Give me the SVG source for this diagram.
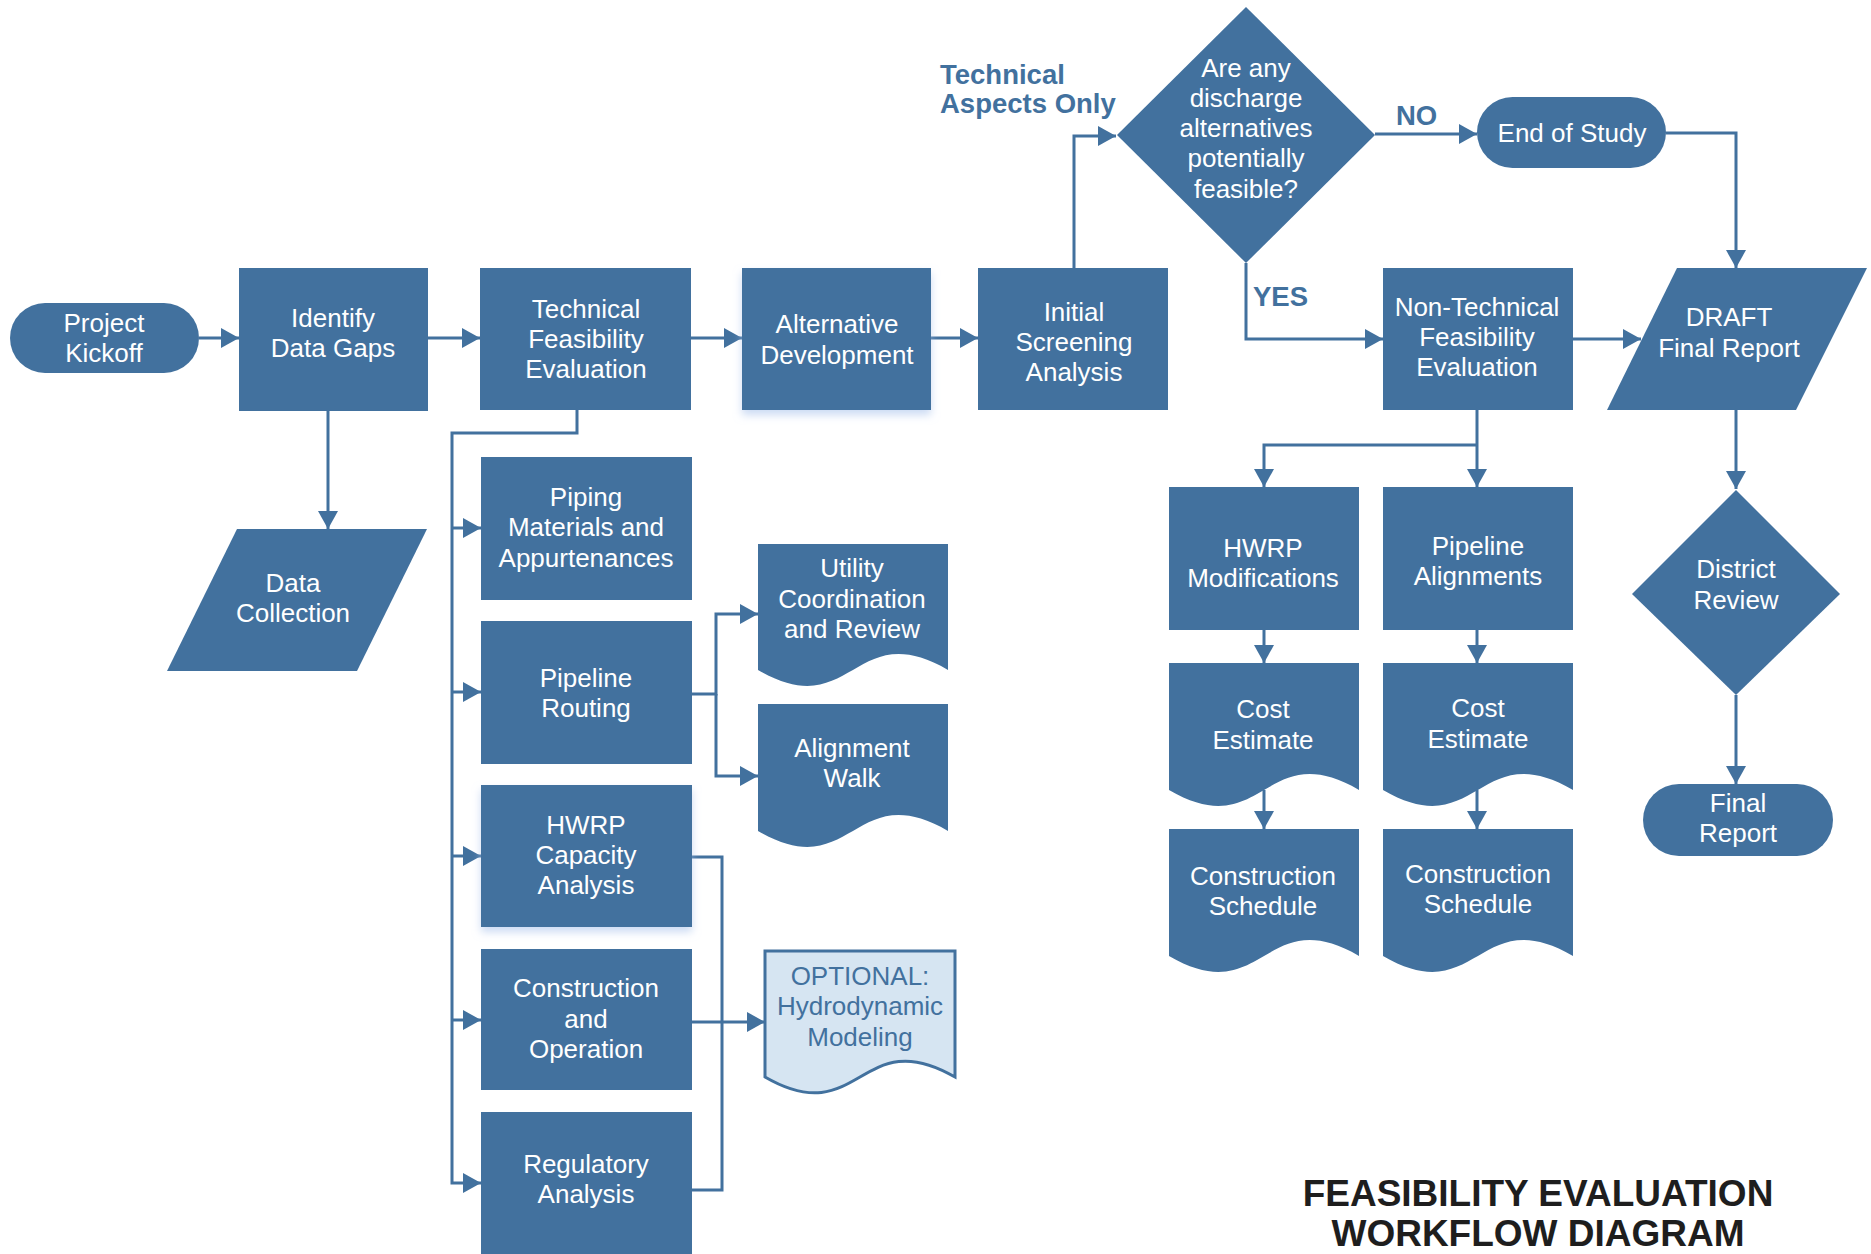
<svg xmlns="http://www.w3.org/2000/svg" width="1871" height="1254" viewBox="0 0 1871 1254">
<style>
.n{fill:#42719e}
.t{fill:#ffffff;font-family:"Liberation Sans",Arial,sans-serif;font-size:26px;text-anchor:middle}
.lbl{fill:#42719e;font-family:"Liberation Sans",Arial,sans-serif;font-size:27.5px;font-weight:bold}
.c{fill:none;stroke:#42719e;stroke-width:3}
.opt{fill:#d6e5f2;stroke:#42719e;stroke-width:3}
.ot{fill:#42719e;font-family:"Liberation Sans",Arial,sans-serif;font-size:26px;text-anchor:middle}
.title{fill:#1e1e1e;font-family:"Liberation Sans",Arial,sans-serif;font-size:37px;font-weight:bold;text-anchor:middle}
</style>
<defs>
<marker id="ah" markerUnits="userSpaceOnUse" markerWidth="18" markerHeight="20" refX="18" refY="10" orient="auto">
<path d="M0,0 L18,10 L0,20 Z" fill="#42719e"/>
</marker>
<filter id="glow" x="-10%" y="-10%" width="120%" height="130%">
<feDropShadow dx="0" dy="5" stdDeviation="4" flood-color="#a9c3ec" flood-opacity="0.6"/>
</filter>
</defs>

<g id="connectors">
<path class="c" d="M199,338 H239" marker-end="url(#ah)"/>
<path class="c" d="M428,338 H480" marker-end="url(#ah)"/>
<path class="c" d="M691,338 H742" marker-end="url(#ah)"/>
<path class="c" d="M931,338 H978" marker-end="url(#ah)"/>
<path class="c" d="M1074,268 V136 H1116" marker-end="url(#ah)"/>
<path class="c" d="M1375,134 H1477" marker-end="url(#ah)"/>
<path class="c" d="M1666,133 H1736 V268" marker-end="url(#ah)"/>
<path class="c" d="M1246,263 V339 H1383" marker-end="url(#ah)"/>
<path class="c" d="M1573,339 H1641" marker-end="url(#ah)"/>
<path class="c" d="M328,411 V529" marker-end="url(#ah)"/>
<path class="c" d="M577,410 V433 H452 V1183 H481" marker-end="url(#ah)"/>
<path class="c" d="M452,528 H481" marker-end="url(#ah)"/>
<path class="c" d="M452,692 H481" marker-end="url(#ah)"/>
<path class="c" d="M452,856 H481" marker-end="url(#ah)"/>
<path class="c" d="M452,1020 H481" marker-end="url(#ah)"/>
<path class="c" d="M692,694 H716 V614 H758" marker-end="url(#ah)"/>
<path class="c" d="M716,694 V776 H758" marker-end="url(#ah)"/>
<path class="c" d="M692,857 H722 V1190 H692"/>
<path class="c" d="M692,1022 H765" marker-end="url(#ah)"/>
<path class="c" d="M1477,410 V487" marker-end="url(#ah)"/>
<path class="c" d="M1477,445 H1264 V487" marker-end="url(#ah)"/>
<path class="c" d="M1264,630 V663" marker-end="url(#ah)"/>
<path class="c" d="M1477,630 V663" marker-end="url(#ah)"/>
<path class="c" d="M1264,790 V829" marker-end="url(#ah)"/>
<path class="c" d="M1477,790 V829" marker-end="url(#ah)"/>
<path class="c" d="M1736,410 V489" marker-end="url(#ah)"/>
<path class="c" d="M1736,695 V784" marker-end="url(#ah)"/>
</g>

<g id="labels">
<text class="lbl" x="940" y="84">Technical</text>
<text class="lbl" x="940" y="113">Aspects Only</text>
<text class="lbl" x="1396" y="125">NO</text>
<text class="lbl" x="1253" y="306">YES</text>
</g>

<g id="project-kickoff">
<rect class="n" x="10" y="303" width="189" height="70" rx="35"/>
<text class="t" x="104" y="332">Project</text>
<text class="t" x="104" y="362">Kickoff</text>
</g>

<g id="identify-data-gaps">
<rect class="n" x="239" y="268" width="189" height="143"/>
<text class="t" x="333" y="327">Identify</text>
<text class="t" x="333" y="357">Data Gaps</text>
</g>

<g id="technical-feasibility">
<rect class="n" x="480" y="268" width="211" height="142"/>
<text class="t" x="586" y="318">Technical</text>
<text class="t" x="586" y="348">Feasibility</text>
<text class="t" x="586" y="378">Evaluation</text>
</g>

<g id="alternative-development">
<rect class="n" x="742" y="268" width="189" height="142" filter="url(#glow)"/>
<text class="t" x="837" y="333">Alternative</text>
<text class="t" x="837" y="364">Development</text>
</g>

<g id="initial-screening">
<rect class="n" x="978" y="268" width="190" height="142"/>
<text class="t" x="1074" y="321">Initial</text>
<text class="t" x="1074" y="351">Screening</text>
<text class="t" x="1074" y="381">Analysis</text>
</g>

<g id="decision-feasible">
<polygon class="n" points="1246,7 1375,135 1246,263 1117,135"/>
<text class="t" x="1246" y="77">Are any</text>
<text class="t" x="1246" y="107">discharge</text>
<text class="t" x="1246" y="137">alternatives</text>
<text class="t" x="1246" y="167">potentially</text>
<text class="t" x="1246" y="198">feasible?</text>
</g>

<g id="end-of-study">
<rect class="n" x="1477" y="97" width="189" height="71" rx="35.5"/>
<text class="t" x="1572" y="142">End of Study</text>
</g>

<g id="non-technical-feasibility">
<rect class="n" x="1383" y="268" width="190" height="142"/>
<text class="t" x="1477" y="316">Non-Technical</text>
<text class="t" x="1477" y="346">Feasibility</text>
<text class="t" x="1477" y="376">Evaluation</text>
</g>

<g id="draft-final-report">
<polygon class="n" points="1677,268 1867,268 1796,410 1607,410"/>
<text class="t" x="1729" y="326">DRAFT</text>
<text class="t" x="1729" y="357">Final Report</text>
</g>

<g id="data-collection">
<polygon class="n" points="237,529 427,529 357,671 167,671"/>
<text class="t" x="293" y="592">Data</text>
<text class="t" x="293" y="622">Collection</text>
</g>

<g id="piping-materials">
<rect class="n" x="481" y="457" width="211" height="143"/>
<text class="t" x="586" y="506">Piping</text>
<text class="t" x="586" y="536">Materials and</text>
<text class="t" x="586" y="567">Appurtenances</text>
</g>

<g id="pipeline-routing">
<rect class="n" x="481" y="621" width="211" height="143"/>
<text class="t" x="586" y="687">Pipeline</text>
<text class="t" x="586" y="717">Routing</text>
</g>

<g id="hwrp-capacity">
<rect class="n" x="481" y="785" width="211" height="142" filter="url(#glow)"/>
<text class="t" x="586" y="834">HWRP</text>
<text class="t" x="586" y="864">Capacity</text>
<text class="t" x="586" y="894">Analysis</text>
</g>

<g id="construction-operation">
<rect class="n" x="481" y="949" width="211" height="141"/>
<text class="t" x="586" y="997">Construction</text>
<text class="t" x="586" y="1028">and</text>
<text class="t" x="586" y="1058">Operation</text>
</g>

<g id="regulatory-analysis">
<rect class="n" x="481" y="1112" width="211" height="142"/>
<text class="t" x="586" y="1173">Regulatory</text>
<text class="t" x="586" y="1203">Analysis</text>
</g>

<g id="utility-coordination">
<path class="n" d="M758,544 H948 V670 C853,615 853,725 758,670 Z"/>
<text class="t" x="852" y="577">Utility</text>
<text class="t" x="852" y="608">Coordination</text>
<text class="t" x="852" y="638">and Review</text>
</g>

<g id="alignment-walk">
<path class="n" d="M758,704 H948 V831 C853,776 853,886 758,831 Z"/>
<text class="t" x="852" y="757">Alignment</text>
<text class="t" x="852" y="787">Walk</text>
</g>

<g id="optional-hydrodynamic">
<path class="opt" d="M765,951 H955 V1077 C860,1022 860,1132 765,1077 Z"/>
<text class="ot" x="860" y="985">OPTIONAL:</text>
<text class="ot" x="860" y="1015">Hydrodynamic</text>
<text class="ot" x="860" y="1046">Modeling</text>
</g>

<g id="hwrp-modifications">
<rect class="n" x="1169" y="487" width="190" height="143"/>
<text class="t" x="1263" y="557">HWRP</text>
<text class="t" x="1263" y="587">Modifications</text>
</g>

<g id="pipeline-alignments">
<rect class="n" x="1383" y="487" width="190" height="143"/>
<text class="t" x="1478" y="555">Pipeline</text>
<text class="t" x="1478" y="585">Alignments</text>
</g>

<g id="cost-estimate-hwrp">
<path class="n" d="M1169,663 H1359 V790 C1264,735 1264,845 1169,790 Z"/>
<text class="t" x="1263" y="718">Cost</text>
<text class="t" x="1263" y="749">Estimate</text>
</g>

<g id="cost-estimate-pipeline">
<path class="n" d="M1383,663 H1573 V790 C1478,735 1478,845 1383,790 Z"/>
<text class="t" x="1478" y="717">Cost</text>
<text class="t" x="1478" y="748">Estimate</text>
</g>

<g id="construction-schedule-hwrp">
<path class="n" d="M1169,829 H1359 V956 C1264,901 1264,1011 1169,956 Z"/>
<text class="t" x="1263" y="885">Construction</text>
<text class="t" x="1263" y="915">Schedule</text>
</g>

<g id="construction-schedule-pipeline">
<path class="n" d="M1383,829 H1573 V956 C1478,901 1478,1011 1383,956 Z"/>
<text class="t" x="1478" y="883">Construction</text>
<text class="t" x="1478" y="913">Schedule</text>
</g>

<g id="district-review">
<polygon class="n" points="1736,490 1840,594 1736,695 1632,594"/>
<text class="t" x="1736" y="578">District</text>
<text class="t" x="1736" y="609">Review</text>
</g>

<g id="final-report">
<rect class="n" x="1643" y="784" width="190" height="72" rx="36"/>
<text class="t" x="1738" y="812">Final</text>
<text class="t" x="1738" y="842">Report</text>
</g>

<g id="title">
<text class="title" x="1538" y="1206">FEASIBILITY EVALUATION</text>
<text class="title" x="1538" y="1246">WORKFLOW DIAGRAM</text>
</g>
</svg>
